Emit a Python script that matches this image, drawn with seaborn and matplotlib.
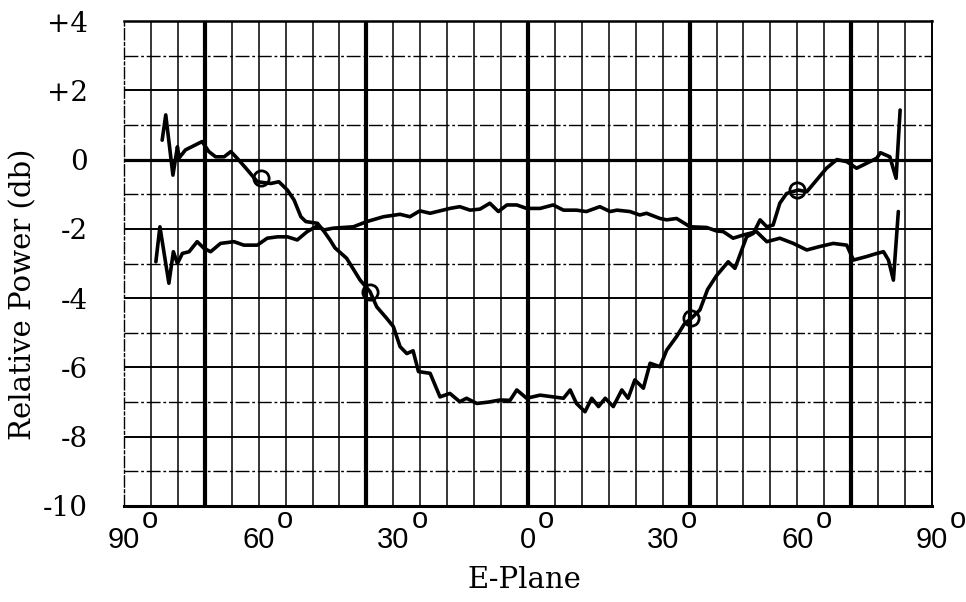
import matplotlib
matplotlib.use("Agg")
import matplotlib.pyplot as plt
import seaborn as sns
import numpy as np
import pandas as pd

# ---------------- data ----------------
x_ticks = [-90, -60, -30, 0, 30, 60, 90]
x_tick_labels = ["90", "60", "30", "0", "30", "60", "90"]
y_ticks = [-10, -8, -6, -4, -2, 0, 2, 4]
y_tick_labels = ["-10", "-8", "-6", "-4", "-2", "0", "+2", "+4"]

# curve with the deep dip in the centre
dip_angle = [-81.5, -80.7, -79.1, -78.1, -77.7, -76.3, -74.9, -72.6, -71.1, -69.6,
             -67.7, -66.2, -64.8, -62.5, -60.3, -57.3, -55.5, -53.6, -52.1, -50.6,
             -49.5, -46.9, -45.4, -44.1, -43.0, -40.4, -37.4, -35.2, -33.7, -31.5,
             -30.0, -28.5, -27.0, -25.6, -24.4, -21.8, -19.6, -17.4, -15.2, -13.7,
             -11.4, -8.8, -6.2, -4.0, -2.5, -0.3, 2.7, 5.6, 7.9, 9.4,
             10.8, 12.7, 14.2, 15.7, 17.2, 19.0, 20.9, 22.3, 23.8, 25.7,
             27.2, 29.4, 30.9, 33.1, 34.8, 36.4, 38.3, 40.0, 42.0, 44.6,
             46.1, 47.9, 48.7, 50.2, 51.7, 53.2, 54.6, 56.1, 57.6, 60.2,
             62.1, 64.3, 66.5, 68.8, 71.0, 73.2, 75.4, 77.7, 78.5, 80.6,
             82.0, 82.9]
dip_power = [0.56, 1.29, -0.45, 0.37, 0.05, 0.28, 0.37, 0.52, 0.23, 0.08,
             0.08, 0.23, 0.04, -0.30, -0.64, -0.69, -0.64, -0.88, -1.17, -1.65,
             -1.79, -1.84, -2.08, -2.32, -2.55, -2.85, -3.48, -3.81, -4.25, -4.58,
             -4.82, -5.40, -5.60, -5.52, -6.12, -6.17, -6.85, -6.75, -6.99, -6.89,
             -7.04, -7.00, -6.94, -6.95, -6.65, -6.89, -6.80, -6.85, -6.89, -6.65,
             -7.04, -7.28, -6.89, -7.13, -6.89, -7.13, -6.65, -6.89, -6.36, -6.60,
             -5.88, -5.98, -5.50, -5.11, -4.75, -4.58, -4.34, -3.75, -3.35, -2.95,
             -3.14, -2.51, -2.23, -2.13, -1.74, -1.94, -1.89, -1.26, -0.98, -0.88,
             -0.93, -0.59, -0.25, 0.00, -0.06, -0.25, -0.11, 0.04, 0.20, 0.08,
             -0.54, 1.43]

# flatter curve
flat_angle = [-82.9, -82.0, -80.0, -79.0, -78.1, -77.0, -75.5, -73.7, -72.2, -70.7,
              -68.5, -65.5, -63.3, -60.3, -58.1, -55.8, -53.6, -51.4, -49.2, -47.0,
              -45.4, -43.4, -38.9, -35.9, -32.2, -28.5, -26.3, -24.1, -21.8, -17.4,
              -15.2, -12.9, -10.7, -8.5, -6.6, -4.7, -2.5, -0.3, 2.7, 5.6,
              7.9, 10.8, 13.0, 16.0, 18.3, 19.8, 22.7, 24.9, 26.4, 29.4,
              30.9, 33.1, 36.1, 39.8, 42.0, 43.5, 45.7, 47.9, 50.9, 53.2,
              56.1, 59.1, 62.1, 65.0, 68.0, 71.0, 72.5, 75.4, 77.7, 79.2,
              80.3, 81.4, 82.5]
flat_power = [-2.95, -1.94, -3.57, -2.66, -3.00, -2.71, -2.66, -2.37, -2.56, -2.66,
              -2.42, -2.37, -2.47, -2.47, -2.27, -2.23, -2.23, -2.32, -2.08, -1.92,
              -2.03, -1.98, -1.94, -1.79, -1.65, -1.58, -1.65, -1.48, -1.55, -1.41,
              -1.36, -1.46, -1.43, -1.26, -1.50, -1.31, -1.31, -1.41, -1.41, -1.31,
              -1.46, -1.46, -1.50, -1.36, -1.50, -1.46, -1.50, -1.60, -1.55, -1.70,
              -1.74, -1.70, -1.94, -1.96, -2.06, -2.08, -2.27, -2.18, -2.08, -2.37,
              -2.27, -2.42, -2.61, -2.51, -2.42, -2.47, -2.90, -2.80, -2.71, -2.66,
              -2.90, -3.48, -1.50]

# open circle markers on the dip curve
circle_angle = [-59.4, -35.2, 36.3, 59.9]
circle_power = [-0.53, -3.82, -4.58, -0.88]

# ---------------- style ----------------
sns.set_theme(style="white")
plt.rcParams["font.family"] = ["DejaVu Serif", "DejaVu Sans"]
plt.rcParams["axes.edgecolor"] = "black"

fig = plt.figure(figsize=(9.66, 6.02), dpi=100)
ax = fig.add_axes([124 / 966, 96 / 602, 808 / 966, 485 / 602])
ax.set_facecolor("white")

# graph-paper grid
for gx in range(-84, 85, 6):
    if gx % 36 == 0:
        ax.axvline(gx, color="black", lw=3.0, zorder=1)
    else:
        ax.axvline(gx, color="black", lw=1.1, zorder=1)
for gy in range(-9, 4):
    if gy == 0:
        ax.axhline(gy, color="black", lw=2.3, zorder=1)
    elif gy % 2 == 0:
        ax.axhline(gy, color="black", lw=1.4, zorder=1)
    else:
        ax.axhline(gy, color="black", lw=1.0, zorder=1, dashes=(10, 2, 2, 2))

dip_df = pd.DataFrame({"angle": dip_angle, "power": dip_power})
flat_df = pd.DataFrame({"angle": flat_angle, "power": flat_power})
circ_df = pd.DataFrame({"angle": circle_angle, "power": circle_power})

line_kw = dict(sort=False, estimator=None, color="black", lw=2.6,
               solid_joinstyle="round", solid_capstyle="round")
sns.lineplot(data=flat_df, x="angle", y="power", ax=ax, zorder=3, **line_kw)
sns.lineplot(data=dip_df, x="angle", y="power", ax=ax, zorder=3, **line_kw)
sns.lineplot(data=circ_df, x="angle", y="power", sort=False, estimator=None,
             marker="o", linestyle="", markerfacecolor="none",
             markeredgecolor="black", markersize=11, markeredgewidth=2.0,
             ax=ax, zorder=4)

ax.set_xlim(-90, 90)
ax.set_ylim(-10, 4)

# spines
for side, lw in [("top", 1.8), ("bottom", 2.2), ("right", 1.4), ("left", 1.0)]:
    ax.spines[side].set_visible(True)
    ax.spines[side].set_color("black")
    ax.spines[side].set_linewidth(lw)
ax.spines["left"].set_linestyle((0, (8, 2, 2, 2)))

# ticks
ax.set_xticks(x_ticks)
ax.set_xticklabels(x_tick_labels, fontsize=21, family="Liberation Sans")
ax.set_yticks(y_ticks)
ax.set_yticklabels(y_tick_labels, fontsize=20, family="DejaVu Serif")
ax.tick_params(axis="x", length=0, pad=14.5, colors="black")
ax.tick_params(axis="y", length=0, pad=26, colors="black")

ax.set_xlabel("E-Plane", fontsize=21, family="DejaVu Serif", color="black")
ax.set_ylabel("Relative Power (db)", fontsize=21, family="DejaVu Serif", color="black")
ax.xaxis.set_label_coords(0.496, -0.123)
ax.yaxis.set_label_coords(-0.1077, 0.436)

# degree "o" raised after each x tick number
fig.canvas.draw()
renderer = fig.canvas.get_renderer()
for lab in ax.get_xticklabels():
    bb = lab.get_window_extent(renderer)
    fig.text(bb.x1 + 2, bb.y1 - 2, "o", transform=None, fontsize=21,
             family="Liberation Sans", ha="left", va="baseline", color="black")

fig.savefig("out.png", dpi=100, facecolor="white")
